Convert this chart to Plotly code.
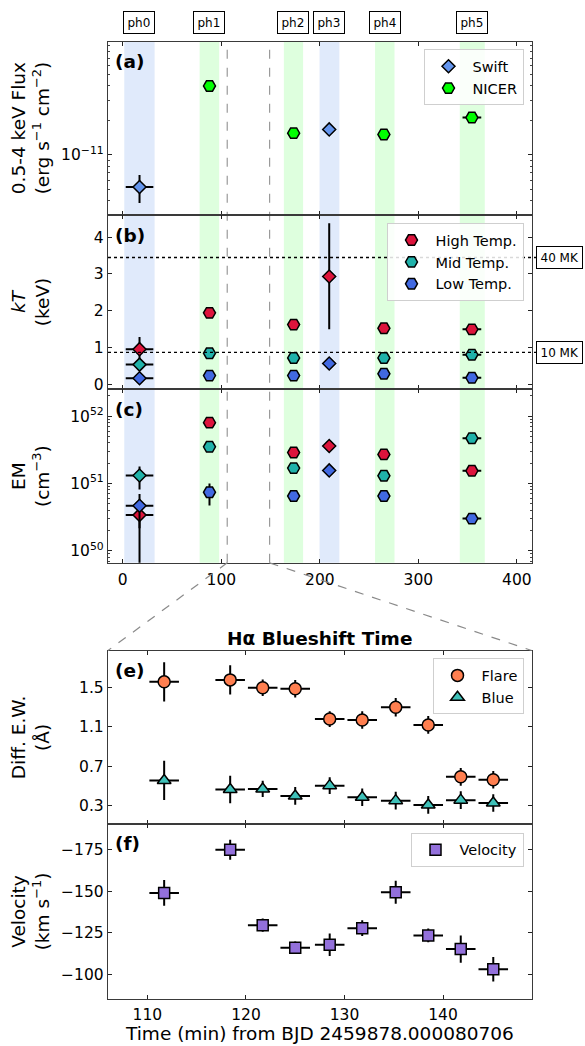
import plotly.graph_objects as go

FONT = "DejaVu Sans"
W, H = 585, 1046

# ---------------- X-ray phases ----------------
phase_names = ["ph0", "ph1", "ph2", "ph3", "ph4", "ph5"]
phase_instr = ["Swift", "NICER", "NICER", "Swift", "NICER", "NICER"]
phase_start = [1.5, 78.0, 163.5, 199.7, 256.0, 342.0]
phase_end = [32.3, 97.8, 183.0, 219.8, 275.8, 367.4]
phase_time = [17.0, 88.0, 173.4, 209.5, 265.0, 354.3]
phase_halfwidth = [14.0, 3.0, 3.0, 3.0, 3.0, 9.5]

# (a) 0.5-4 keV flux (erg s^-1 cm^-2)
flux = [5.25e-12, 4.0e-11, 1.55e-11, 1.67e-11, 1.51e-11, 2.12e-11]
flux_err_up = [1.42e-12, 1.0e-12, 4e-13, 5e-13, 4e-13, 6e-13]
flux_err_dn = [1.45e-12, 1.0e-12, 4e-13, 5e-13, 4e-13, 6e-13]

# (b) plasma temperatures (keV)
kt_high = [0.95, 1.94, 1.62, 2.93, 1.52, 1.49]
kt_high_err_up = [0.33, 0.06, 0.05, 1.45, 0.05, 0.05]
kt_high_err_dn = [0.33, 0.06, 0.05, 1.44, 0.05, 0.05]
kt_mid = [0.53, 0.84, 0.71, None, 0.71, 0.80]
kt_mid_err = [0.15, 0.04, 0.04, 0.0, 0.04, 0.04]
kt_low = [0.16, 0.23, 0.23, 0.56, 0.28, 0.17]
kt_low_err = [0.15, 0.03, 0.03, 0.05, 0.04, 0.03]

# (c) emission measures (cm^-3)
em_high = [3.4e50, 8.0e51, 2.88e51, 3.6e51, 2.7e51, 1.54e51]
em_high_err_up = [1.6e50, 4e50, 1.5e50, 2e50, 1.5e50, 1e50]
em_high_err_dn = [3.39e50, 4e50, 1.5e50, 2e50, 1.5e50, 1e50]
em_mid = [1.31e51, 3.5e51, 1.69e51, None, 1.3e51, 4.7e51]
em_mid_err_up = [4.7e50, 2e50, 1e50, 0.0, 8e49, 2.5e50]
em_mid_err_dn = [5.0e50, 2e50, 1e50, 0.0, 8e49, 2.5e50]
em_low = [4.65e50, 7.4e50, 6.5e50, 1.56e51, 6.5e50, 3.0e50]
em_low_err_up = [2.3e50, 2.6e50, 4e49, 1e50, 4e49, 2e49]
em_low_err_dn = [2.5e50, 2.7e50, 4e49, 1e50, 4e49, 2e49]

# Temperature thresholds (keV) for 10 MK and 40 MK
kt_10mk = 0.8617
kt_40mk = 3.447

# ---------------- H-alpha blueshift ----------------
t_ha = [111.7, 118.4, 121.7, 125.0, 128.5, 131.8, 135.2, 138.5, 141.8, 145.1]
t_ha_halfwidth = [1.5, 1.5, 1.5, 1.5, 1.5, 1.5, 1.5, 1.5, 1.5, 1.5]
ew_flare = [1.56, 1.58, 1.50, 1.49, 1.18, 1.17, 1.30, 1.12, 0.59, 0.56]
ew_flare_err = [0.20, 0.15, 0.085, 0.09, 0.08, 0.09, 0.095, 0.09, 0.09, 0.09]
ew_blue = [0.553, 0.46, 0.466, 0.395, 0.50, 0.381, 0.347, 0.303, 0.352, 0.323]
ew_blue_err = [0.20, 0.14, 0.083, 0.09, 0.085, 0.09, 0.09, 0.09, 0.09, 0.09]
velocity = [-149.0, -175.0, -129.6, -116.0, -117.8, -127.8, -149.4, -123.4, -115.2, -103.0]
velocity_err = [7.8, 6.0, 4.0, 3.8, 6.8, 4.8, 6.9, 4.1, 8.2, 7.4]

# zoom window of the lower panels (min)
T_LO, T_HI = 106.0, 149.0
X_TOP_RANGE = [-15.0, 415.0]

# ---------------- layout geometry (pixels) ----------------
X_L, X_R = 108.0, 531.7
PANELS = {  # top, bottom in pixels
    "a": (41.7, 216.0),
    "b": (216.0, 390.7),
    "c": (390.7, 565.0),
    "e": (653.0, 827.0),
    "f": (827.0, 1002.7),
}


def px_x(p):
    return p / W


def px_y(p):
    return 1 - p / H


def dom(key):
    t, b = PANELS[key]
    return [px_y(b), px_y(t)]


X_DOM = [px_x(X_L), px_x(X_R)]

C_SWIFT = "#6495ED"
C_NICER = "#00FF00"
C_HIGH = "#DC143C"
C_MID = "#20B2AA"
C_LOW = "#4169E1"
C_FLARE = "#FF7F50"
C_BLUE = "#3FC1B9"
C_VEL = "#9370DB"
SPAN_COL = {"Swift": "rgba(100,149,237,0.2)", "NICER": "rgba(0,255,0,0.13)"}

EDGE = dict(color="black", width=1.5)


def err(arr, arrm=None):
    d = dict(type="data", array=arr, color="black", thickness=2, width=0, symmetric=arrm is None)
    if arrm is not None:
        d["arrayminus"] = arrm
    return d


def pick(vals, instr):
    return [v for v, i in zip(vals, phase_instr) if i == instr]


fig = go.Figure()


def phase_series(xa, ya, y, up, dn, color, name, legend, showleg):
    for instr, sym, size in (("NICER", "hexagon2", 12), ("Swift", "diamond", 10)):
        fig.add_trace(go.Scatter(
            x=pick(phase_time, instr), y=pick(y, instr), mode="markers",
            xaxis=xa, yaxis=ya, name=name,
            legend=legend, showlegend=showleg and instr == "NICER",
            marker=dict(symbol=sym, size=size, color=color, line=EDGE),
            error_x=err(pick(phase_halfwidth, instr)),
            error_y=err(pick(up, instr), pick(dn, instr)),
        ))


# (a) flux
fig.add_trace(go.Scatter(
    x=pick(phase_time, "Swift"), y=pick(flux, "Swift"), mode="markers", name="Swift",
    xaxis="x", yaxis="y", legend="legend",
    marker=dict(symbol="diamond", size=10, color=C_SWIFT, line=EDGE),
    error_x=err(pick(phase_halfwidth, "Swift")),
    error_y=err(pick(flux_err_up, "Swift"), pick(flux_err_dn, "Swift")),
))
fig.add_trace(go.Scatter(
    x=pick(phase_time, "NICER"), y=pick(flux, "NICER"), mode="markers", name="NICER",
    xaxis="x", yaxis="y", legend="legend",
    marker=dict(symbol="hexagon2", size=12, color=C_NICER, line=EDGE),
    error_x=err(pick(phase_halfwidth, "NICER")),
    error_y=err(pick(flux_err_up, "NICER"), pick(flux_err_dn, "NICER")),
))

# (b) temperatures
phase_series("x2", "y2", kt_high, kt_high_err_up, kt_high_err_dn, C_HIGH, "High Temp.", "legend2", True)
phase_series("x2", "y2", kt_mid, kt_mid_err, kt_mid_err, C_MID, "Mid Temp.", "legend2", True)
phase_series("x2", "y2", kt_low, kt_low_err, kt_low_err, C_LOW, "Low Temp.", "legend2", True)

# (c) emission measures
phase_series("x3", "y3", em_high, em_high_err_up, em_high_err_dn, C_HIGH, "High Temp.", "legend2", False)
phase_series("x3", "y3", em_mid, em_mid_err_up, em_mid_err_dn, C_MID, "Mid Temp.", "legend2", False)
phase_series("x3", "y3", em_low, em_low_err_up, em_low_err_dn, C_LOW, "Low Temp.", "legend2", False)

# (e) equivalent widths
fig.add_trace(go.Scatter(
    x=t_ha, y=ew_flare, mode="markers", name="Flare", xaxis="x4", yaxis="y4", legend="legend3",
    marker=dict(symbol="circle", size=12, color=C_FLARE, line=EDGE),
    error_x=err(t_ha_halfwidth), error_y=err(ew_flare_err),
))
fig.add_trace(go.Scatter(
    x=t_ha, y=ew_blue, mode="markers", name="Blue", xaxis="x4", yaxis="y4", legend="legend3",
    marker=dict(symbol="triangle-up", size=12, color=C_BLUE, line=EDGE),
    error_x=err(t_ha_halfwidth), error_y=err(ew_blue_err),
))

# (f) velocity
fig.add_trace(go.Scatter(
    x=t_ha, y=velocity, mode="markers", name="Velocity", xaxis="x5", yaxis="y5", legend="legend4",
    marker=dict(symbol="square", size=11, color=C_VEL, line=EDGE),
    error_x=err(t_ha_halfwidth), error_y=err(velocity_err),
))

# ---------------- axes ----------------
AX_LINE = dict(showline=True, linecolor="#3a3a3a", linewidth=1.4, mirror="ticks",
               ticks="inside", ticklen=4, tickwidth=1.1, tickcolor="#222",
               showgrid=False, zeroline=False,
               tickfont=dict(family=FONT, size=15.5, color="black"))
MINOR_LOG = dict(ticks="inside", ticklen=2, tickwidth=0.8, tickcolor="#444", showgrid=False)

xcommon = dict(AX_LINE, domain=X_DOM, range=X_TOP_RANGE, tickvals=[0, 100, 200, 300, 400])
fig.update_layout(
    xaxis=dict(xcommon, anchor="y", showticklabels=False),
    xaxis2=dict(xcommon, anchor="y2", matches="x", showticklabels=False),
    xaxis3=dict(xcommon, anchor="y3", matches="x", showticklabels=True, ticklabelstandoff=2),
    xaxis4=dict(AX_LINE, domain=X_DOM, range=[T_LO, T_HI], anchor="y4",
                tickvals=[110, 120, 130, 140], showticklabels=False),
    xaxis5=dict(AX_LINE, domain=X_DOM, range=[T_LO, T_HI], anchor="y5", matches="x4",
                tickvals=[110, 120, 130, 140], showticklabels=True, ticklabelstandoff=1),
    yaxis=dict(AX_LINE, domain=dom("a"), anchor="x", type="log", range=[-11.526, -10.01],
               tickvals=[1e-11], ticktext=["10<sup>\u221211</sup>"], minor=dict(MINOR_LOG, dtick="D1")),
    yaxis2=dict(AX_LINE, domain=dom("b"), anchor="x2", range=[-0.14, 4.6], tickvals=[0, 1, 2, 3, 4]),
    yaxis3=dict(AX_LINE, domain=dom("c"), anchor="x3", type="log", range=[49.82, 52.40],
                tickvals=[1e50, 1e51, 1e52],
                ticktext=["10<sup>50</sup>", "10<sup>51</sup>", "10<sup>52</sup>"],
                minor=dict(MINOR_LOG, dtick="D1")),
    yaxis4=dict(AX_LINE, domain=dom("e"), anchor="x4", range=[0.11, 1.88],
                tickvals=[0.3, 0.7, 1.1, 1.5], ticktext=["0.3", "0.7", "1.1", "1.5"]),
    yaxis5=dict(AX_LINE, domain=dom("f"), anchor="x5", range=[-85.2, -190.6],
                tickvals=[-175, -150, -125, -100]),
)

# ---------------- legends ----------------
LEG = dict(bgcolor="rgba(255,255,255,0.85)", bordercolor="#cfcfcf", borderwidth=1,
           font=dict(family=FONT, size=14.5, color="black"), xanchor="right", yanchor="top",
           itemwidth=38, tracegroupgap=0)
fig.update_layout(
    legend=dict(LEG, x=px_x(523.5), y=px_y(49.5)),
    legend2=dict(LEG, x=px_x(523.5), y=px_y(224)),
    legend3=dict(LEG, x=px_x(523.5), y=px_y(661)),
    legend4=dict(LEG, x=px_x(523.5), y=px_y(836)),
)

# ---------------- shapes ----------------
shapes = []
y_span = [px_y(PANELS["c"][1]), px_y(PANELS["a"][0])]
for s, e, instr in zip(phase_start, phase_end, phase_instr):
    shapes.append(dict(type="rect", xref="x", yref="paper", x0=s, x1=e, y0=y_span[0], y1=y_span[1],
                       fillcolor=SPAN_COL[instr], line=dict(width=0), layer="below"))
for t in (T_LO, T_HI):
    shapes.append(dict(type="line", xref="x", yref="paper", x0=t, x1=t, y0=y_span[0], y1=y_span[1],
                       line=dict(color="#9a9a9a", width=1.2, dash="dash"), layer="below"))


def top_x_to_paper(v):
    r0, r1 = X_TOP_RANGE
    return X_DOM[0] + (v - r0) / (r1 - r0) * (X_DOM[1] - X_DOM[0])


# connector from zoom window to the lower panels
for t, xp in ((T_LO, X_DOM[0]), (T_HI, X_DOM[1])):
    shapes.append(dict(type="line", xref="paper", yref="paper",
                       x0=top_x_to_paper(t), y0=px_y(PANELS["c"][1]),
                       x1=xp, y1=px_y(PANELS["e"][0]),
                       line=dict(color="#8a8a8a", width=1.2, dash="dash")))
# temperature reference levels
for kt in (kt_10mk, kt_40mk):
    shapes.append(dict(type="line", xref="paper", yref="y2", x0=X_DOM[0], x1=px_x(537),
                       y0=kt, y1=kt, line=dict(color="black", width=1.3, dash="dot")))
fig.update_layout(shapes=shapes)

# ---------------- annotations ----------------
ann = []
for name, s, e in zip(phase_names, phase_start, phase_end):
    ann.append(dict(x=(s + e) / 2, xref="x", y=px_y(22.5), yref="paper", text=name, showarrow=False,
                    xanchor="center", yanchor="middle",
                    font=dict(family=FONT, size=12, color="black"), bordercolor="black",
                    borderwidth=1, borderpad=3.5, bgcolor="white"))
for kt, txt in ((kt_40mk, "40 MK"), (kt_10mk, "10 MK")):
    ann.append(dict(x=px_x(559.5), xref="paper", y=kt, yref="y2", text=txt, showarrow=False,
                    xanchor="center", yanchor="middle",
                    font=dict(family=FONT, size=12, color="black"), bordercolor="black",
                    borderwidth=1, borderpad=3.5, bgcolor="white"))
for key, ax in (("a", "y"), ("b", "y2"), ("c", "y3"), ("e", "y4"), ("f", "y5")):
    t, b = PANELS[key]
    ann.append(dict(x=px_x(X_L + 5), xref="paper", y=px_y(t + 20), yref="paper",
                    text=f"<b>({key})</b>", showarrow=False, xanchor="left", yanchor="middle",
                    font=dict(family=FONT, size=18.5, color="black")))

ylabels = {
    "a": "0.5-4 keV Flux<br>(erg s<sup>\u22121</sup> cm<sup>\u22122</sup>)",
    "b": "<i>kT</i><br>(keV)",
    "c": "EM<br>(cm<sup>\u22123</sup>)",
    "e": "Diff. E.W.<br>(\u00c5)",
    "f": "Velocity<br>(km s<sup>\u22121</sup>)",
}
for key, txt in ylabels.items():
    t, b = PANELS[key]
    ann.append(dict(x=px_x(30), xref="paper", y=px_y((t + b) / 2), yref="paper", text=txt,
                    textangle=-90, showarrow=False, xanchor="center", yanchor="middle",
                    font=dict(family=FONT, size=18.5, color="black")))

ann.append(dict(x=(X_DOM[0] + X_DOM[1]) / 2, xref="paper", y=px_y(641), yref="paper",
                text="<b>H\u03b1 Blueshift Time</b>", showarrow=False, yanchor="middle",
                font=dict(family=FONT, size=18.5, color="black")))
ann.append(dict(x=(X_DOM[0] + X_DOM[1]) / 2, xref="paper", y=px_y(1037.5), yref="paper",
                text="Time (min) from BJD 2459878.000080706", showarrow=False, yanchor="middle",
                font=dict(family=FONT, size=18.5, color="black")))
fig.update_layout(annotations=ann)

fig.update_layout(
    width=W, height=H, margin=dict(l=0, r=0, t=0, b=0),
    paper_bgcolor="white", plot_bgcolor="white",
    font=dict(family=FONT, size=15, color="black"),
)

fig.write_html("out.html")
